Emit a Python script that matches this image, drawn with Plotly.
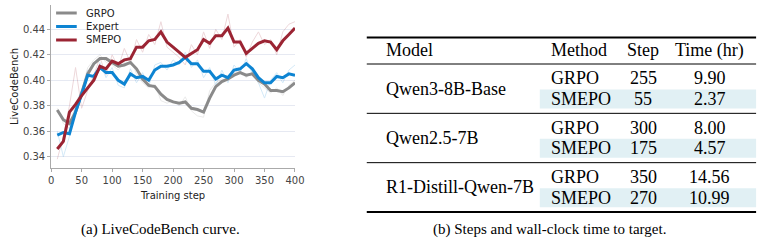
import plotly.graph_objects as go

W, H = 772, 241

steps = list(range(10, 410, 10))

grpo_smooth = [0.3766, 0.369, 0.366, 0.375, 0.390, 0.405, 0.413, 0.417, 0.417, 0.414,
               0.411, 0.412, 0.414, 0.409, 0.401, 0.396, 0.395, 0.389, 0.385, 0.383,
               0.382, 0.383, 0.378, 0.377, 0.375, 0.386, 0.395, 0.399, 0.401, 0.404,
               0.406, 0.404, 0.405, 0.400, 0.397, 0.392, 0.392, 0.391, 0.394, 0.398]
expert_smooth = [0.357, 0.359, 0.358, 0.375, 0.389, 0.404, 0.403, 0.410, 0.406, 0.406,
                 0.400, 0.397, 0.405, 0.402, 0.403, 0.400, 0.408, 0.411, 0.411, 0.412,
                 0.414, 0.418, 0.413, 0.413, 0.407, 0.407, 0.401, 0.404, 0.402, 0.408,
                 0.409, 0.413, 0.409, 0.402, 0.398, 0.398, 0.403, 0.402, 0.405, 0.404]
smepo_smooth = [0.346, 0.352, 0.375, 0.381, 0.388, 0.394, 0.400, 0.411, 0.409, 0.415,
                0.413, 0.416, 0.417, 0.426, 0.426, 0.431, 0.432, 0.438, 0.430, 0.426,
                0.422, 0.418, 0.421, 0.424, 0.432, 0.429, 0.435, 0.435, 0.441, 0.430,
                0.430, 0.421, 0.425, 0.429, 0.431, 0.430, 0.424, 0.431, 0.436, 0.441]

grpo_raw = [0.378, 0.366, 0.362, 0.382, 0.392, 0.410, 0.416, 0.420, 0.414, 0.412,
            0.408, 0.414, 0.417, 0.405, 0.398, 0.394, 0.397, 0.384, 0.382, 0.384,
            0.380, 0.387, 0.376, 0.372, 0.371, 0.392, 0.398, 0.401, 0.400, 0.406,
            0.408, 0.402, 0.407, 0.398, 0.394, 0.390, 0.394, 0.388, 0.396, 0.400]
expert_raw = [0.360, 0.340, 0.356, 0.380, 0.392, 0.408, 0.399, 0.414, 0.402, 0.410,
              0.396, 0.394, 0.409, 0.398, 0.406, 0.395, 0.412, 0.414, 0.408, 0.416,
              0.412, 0.422, 0.410, 0.416, 0.402, 0.410, 0.396, 0.408, 0.398, 0.412,
              0.406, 0.417, 0.405, 0.398, 0.386, 0.400, 0.406, 0.398, 0.408, 0.412]
smepo_raw = [0.338, 0.356, 0.380, 0.410, 0.378, 0.392, 0.404, 0.418, 0.404, 0.420,
             0.410, 0.425, 0.414, 0.432, 0.422, 0.436, 0.428, 0.446, 0.426, 0.422,
             0.418, 0.412, 0.428, 0.420, 0.438, 0.425, 0.440, 0.432, 0.452, 0.426,
             0.432, 0.418, 0.430, 0.438, 0.428, 0.432, 0.420, 0.438, 0.444, 0.446]

y_ticks = [0.34, 0.36, 0.38, 0.40, 0.42, 0.44]
x_ticks = [0, 50, 100, 150, 200, 250, 300, 350, 400]

series_names = ["GRPO", "Expert", "SMEPO"]

# table data
table_header = ["Model", "Method", "Step", "Time (hr)"]
table_models = ["Qwen3-8B-Base", "Qwen2.5-7B", "R1-Distill-Qwen-7B"]
table_methods = ["GRPO", "SMEPO"]
table_steps = [[255, 55], [300, 175], [350, 270]]
table_times = [["9.90", "2.37"], ["8.00", "4.57"], ["14.56", "10.99"]]

caption_a = "(a) LiveCodeBench curve."
caption_b = "(b) Steps and wall-clock time to target."

C_GRPO = "#8a8a8a"
C_EXP = "#0d84d2"
C_SME = "#9b2433"
colors = [C_GRPO, C_EXP, C_SME]

def px(x):
    return x / W

def py(y):
    return 1 - y / H

fig = go.Figure()

for raw, col in zip([grpo_raw, expert_raw, smepo_raw], colors):
    fig.add_trace(go.Scatter(x=steps, y=raw, mode="lines", line=dict(color=col, width=1),
                             opacity=0.18, showlegend=False, hoverinfo="skip"))

for sm, col, name in zip([grpo_smooth, expert_smooth, smepo_smooth], colors, series_names):
    fig.add_trace(go.Scatter(x=steps, y=sm, mode="lines", line=dict(color=col, width=3),
                             name=name, showlegend=False))

fig.update_xaxes(domain=[px(49), px(297)], range=[0, 400], tickvals=x_ticks,
                 showgrid=False, zeroline=False, showline=True, linecolor="#aaaaaa",
                 linewidth=1, ticks="outside", ticklen=3, tickcolor="#aaaaaa",
                 tickfont=dict(family="DejaVu Sans", size=10, color="#444444"),
                 title=dict(text="Training step", standoff=6,
                            font=dict(family="DejaVu Sans", size=10, color="#222222")))
fig.update_yaxes(domain=[py(168), py(5)], range=[0.3311, 0.4591], tickvals=y_ticks,
                 tickformat=".2f", showgrid=True, gridcolor="#e6eaf2", gridwidth=1,
                 zeroline=False, showline=True, linecolor="#aaaaaa", linewidth=1,
                 ticks="outside", ticklen=3, tickcolor="#aaaaaa",
                 tickfont=dict(family="DejaVu Sans", size=10, color="#444444"),
                 title=dict(text="LiveCodeBench", standoff=2,
                            font=dict(family="DejaVu Sans", size=10, color="#222222")))

shapes = []
annotations = []

def txt(x, y, s, anchor="left", size=18, family="Liberation Serif", color="black"):
    annotations.append(dict(x=px(x), y=py(y), xref="paper", yref="paper", text=s,
                            showarrow=False, xanchor=anchor, yanchor="middle",
                            font=dict(family=family, size=size, color=color)))

# manual legend
for i, (name, col) in enumerate(zip(series_names, colors)):
    ly = 13 + i * 13.5
    shapes.append(dict(type="line", xref="paper", yref="paper", x0=px(54), x1=px(75),
                       y0=py(ly), y1=py(ly), line=dict(color=col, width=3)))
    txt(82, ly, name, size=10, family="DejaVu Sans", color="#222222")

# table rules
x0, x1 = 370, 766
rule_top, rule_head, rule_bot = 37.5, 64, 212
block_h = (rule_bot - rule_head) / 3
for y, w in [(rule_top, 1.8), (rule_head, 1), (rule_bot, 1.8)]:
    shapes.append(dict(type="line", xref="paper", yref="paper", x0=px(x0), x1=px(x1),
                       y0=py(y), y1=py(y), line=dict(color="black", width=w)))
for i in range(1, 3):
    y = rule_head + i * block_h
    shapes.append(dict(type="line", xref="paper", yref="paper", x0=px(x0), x1=px(x1),
                       y0=py(y), y1=py(y), line=dict(color="black", width=1)))

col_method_x = 555
col_step_x = 651
col_time_x = 719
head_y = 50

txt(388, head_y, table_header[0])
txt(col_method_x, head_y, table_header[1])
txt(col_step_x, head_y, table_header[2], "center")
txt(col_time_x, head_y, table_header[3], "center")

for b, model in enumerate(table_models):
    top = rule_head + b * block_h
    shapes.append(dict(type="rect", xref="paper", yref="paper", x0=px(546), x1=px(766),
                       y0=py(top + 25.5), y1=py(top + 44.5), fillcolor="#e1f0f4",
                       line=dict(width=0), layer="below"))
    txt(388, top + 24.5, model)
    for r, meth in enumerate(table_methods):
        ry = top + 14.5 + r * 20.5
        txt(col_method_x, ry, meth)
        txt(col_step_x, ry, str(table_steps[b][r]), "center")
        txt(col_time_x, ry, table_times[b][r], "center")

txt(160, 229, caption_a, "center", size=15)
txt(556, 229, caption_b, "center", size=15)

fig.update_layout(
    width=W, height=H, margin=dict(l=0, r=0, t=0, b=0),
    paper_bgcolor="white", plot_bgcolor="white",
    shapes=shapes, annotations=annotations, showlegend=False,
)

fig.write_html("out.html")
